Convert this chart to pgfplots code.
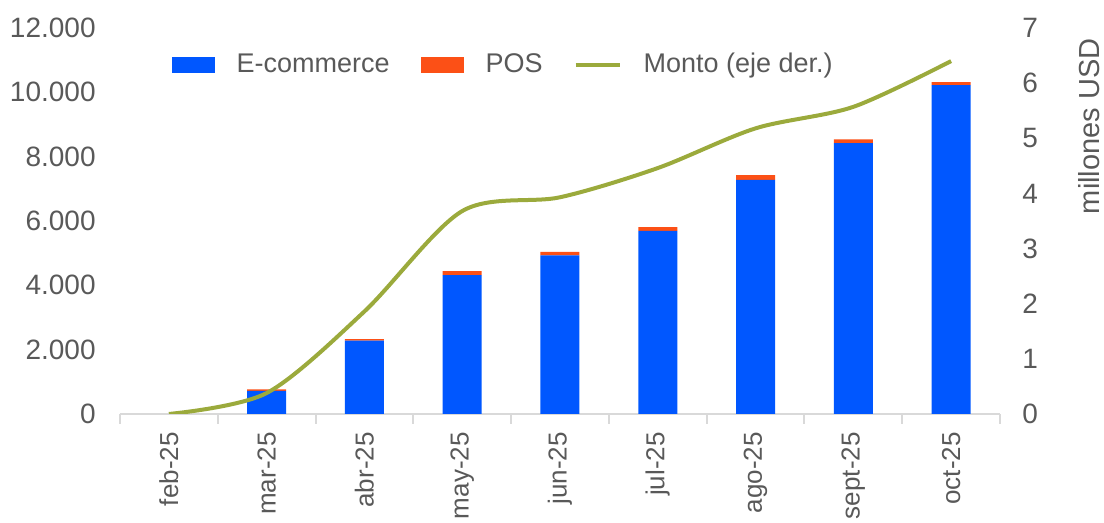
\documentclass[border=0pt]{standalone}
\usepackage{pgfplots}
\pgfplotsset{compat=1.18}
\usepackage{fontspec}
\setmainfont{Liberation Sans}
\definecolor{ecomcol}{RGB}{0,87,255}
\definecolor{poscol}{RGB}{252,80,22}
\definecolor{montocol}{RGB}{155,170,60}
\definecolor{txtcol}{RGB}{89,89,89}
\definecolor{axgcol}{RGB}{217,217,217}
\begin{document}
\begin{tikzpicture}
\pgfplotsset{
  every axis/.append style={
    scale only axis, width=440pt, height=193pt,
    at={(0,0)}, anchor=south west,
    xmin=-0.5, xmax=8.5,
    font=\fontsize{13.5}{16}\selectfont,
    tick label style={text=txtcol, font=\fontsize{14}{16}\selectfont},
    /pgf/number format/assume math mode=true,
    /pgf/number format/1000 sep={.},
    scaled y ticks=false,
    major tick length=0pt,
  }
}
\begin{axis}[
  ybar stacked, bar width=19.5pt,
  ymin=0, ymax=12000,
  ytick={0,2000,...,12000},
  axis x line*=bottom, axis y line*=left,
  y axis line style={draw=none},
  x axis line style={draw=axgcol, line width=1pt},
  ytick style={draw=none},
  xtick={0,...,8},
  xticklabels={feb-25,mar-25,abr-25,may-25,jun-25,jul-25,ago-25,sept-25,oct-25},
  major x tick style={draw=none},
  minor xtick={-0.5,0.5,...,8.5},
  minor x tick style={draw=axgcol, line width=1pt},
  minor tick length=5pt,
  tick align=outside,
  x tick label style={rotate=90, anchor=east, inner sep=0pt, font=\fontsize{13}{16}\selectfont},
  xticklabel shift=9pt,
  y tick label style={anchor=east, inner sep=0pt},
  yticklabel shift=12pt,
]
\addplot[fill=ecomcol, draw=none] coordinates {(0,0) (1,720) (2,2280) (3,4320) (4,4930) (5,5690) (6,7280) (7,8420) (8,10220)};
\addplot[fill=poscol, draw=none] coordinates {(0,0) (1,45) (2,45) (3,120) (4,110) (5,120) (6,145) (7,120) (8,100)};
\end{axis}
\begin{axis}[
  ymin=0, ymax=7,
  ytick={0,...,7},
  axis x line=none, axis y line*=right,
  y axis line style={draw=none},
  ytick style={draw=none},
  y tick label style={anchor=west, inner sep=0pt},
  yticklabel shift=11pt,
  ylabel={millones USD},
  ylabel style={at={([xshift=39pt,yshift=-5pt]rel axis cs:1,1)}, rotate=0, anchor=north east, text=txtcol, inner sep=0pt, font=\fontsize{14.5}{16}\selectfont},
  legend style={at={(0.059,0.905)}, anchor=west, draw=none, fill=none, inner sep=0pt, outer sep=0pt,
    legend columns=3, font=\fontsize{13.5}{16}\selectfont, text=txtcol,
    /tikz/every odd column/.append style={column sep=10.5pt},
    /tikz/every even column/.append style={column sep=15pt},
    nodes={inner sep=0.5pt}},
]
\addlegendimage{legend image code/.code={\fill[ecomcol] (0pt,-3.75pt) rectangle (21pt,3.75pt);}}
\addlegendentry{E-commerce}
\addlegendimage{legend image code/.code={\fill[poscol] (0pt,-3.75pt) rectangle (21pt,3.75pt);}}
\addlegendentry{POS}
\addplot[montocol, line width=2pt, smooth, legend image code/.code={\draw[montocol, line width=2pt] (0pt,0pt) -- (22pt,0pt);}] coordinates {(0,0.0) (1,0.38) (2,1.86) (3,3.68) (4,3.93) (5,4.46) (6,5.18) (7,5.57) (8,6.40)};
\addlegendentry{Monto (eje der.)}
\end{axis}
\pgfresetboundingbox
\path[use as bounding box] (-60pt,-54.5pt) rectangle (492pt,207pt);
\end{tikzpicture}
\end{document}
